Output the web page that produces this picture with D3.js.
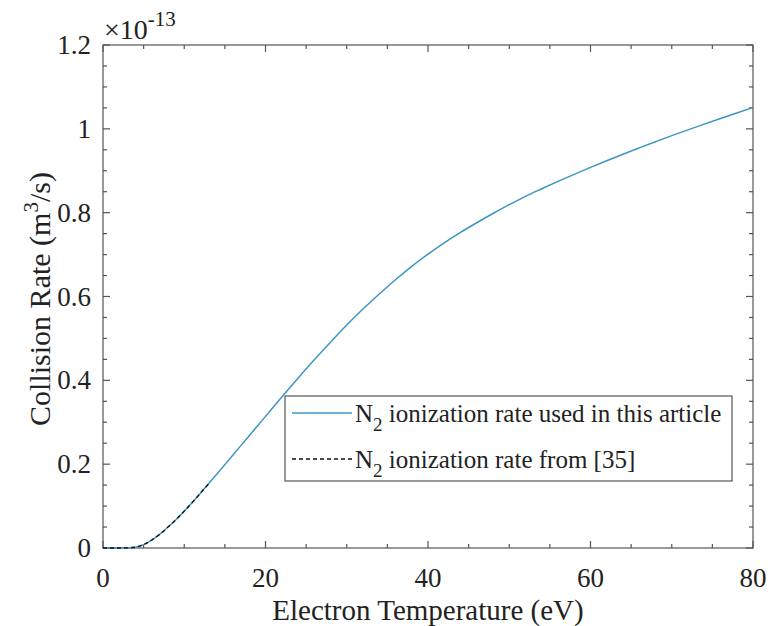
<!DOCTYPE html>
<html><head><meta charset="utf-8">
<script src="https://cdn.jsdelivr.net/npm/d3@7"></script>
<style>body{margin:0;background:#fff}svg{display:block}</style>
</head><body><svg id="c" width="769" height="626"></svg>
<script>
// Data (collision rate in units of 1e-13 m^3/s)
const temps = [0,1,2,3,4,5,6,7,8,9,10,12,14,16,18,20,22,24,26,28,30,32,34,36,38,40,42,44,46,48,50,52,54,56,58,60,62,64,66,68,70,72,74,76,78,80];
const rateArticle = [0,0,0,0.0005,0.002,0.008,0.019,0.033,0.05,0.068,0.088,0.131,0.176,0.222,0.268,0.314,0.360,0.405,0.449,0.491,0.532,0.570,0.606,0.640,0.672,0.701,0.728,0.753,0.776,0.798,0.819,0.839,0.857,0.8745,0.8915,0.908,0.924,0.9395,0.9545,0.9693,0.9838,0.9976,1.0112,1.0246,1.0378,1.0508];
const tempsRef = [0,1,2,3,4,5,6,7,8,9,10,11,12,13];
const rateRef = [0,0,0,0.0005,0.002,0.008,0.019,0.033,0.05,0.068,0.088,0.109,0.131,0.153];
const xMajor = [0,20,40,60,80];
const xMinor = d3.range(0,81,5);
const yMajor = [0,0.2,0.4,0.6,0.8,1,1.2];
const yMinor = d3.range(0,1.2001,0.05);
const yTickLabels = ["0","0.2","0.4","0.6","0.8","1","1.2"];
const seriesNames = ["ionization rate used in this article","ionization rate from [35]"];

const FONT = "Liberation Serif";
const svg = d3.select("#c");
const L=103,R=753,T=45,B=548;
const x = d3.scaleLinear().domain([0,80]).range([L,R]);
const y = d3.scaleLinear().domain([0,1.2]).range([B,T]);
const axCol="#555", txtCol="#222";
const txt = (sel)=>sel.append("text").style("font-family",FONT).attr("fill",txtCol);

svg.append("rect").attr("x",L).attr("y",T).attr("width",R-L).attr("height",B-T)
  .attr("fill","none").attr("stroke",axCol).attr("stroke-width",1.2);

const g = svg.append("g").attr("stroke",axCol).attr("stroke-width",1.2);
xMinor.forEach(v=>{const len = xMajor.includes(v)?7:4; const px=x(v);
  g.append("line").attr("x1",px).attr("x2",px).attr("y1",B).attr("y2",B-len);
  g.append("line").attr("x1",px).attr("x2",px).attr("y1",T).attr("y2",T+len);});
yMinor.forEach(v=>{const isMaj = yMajor.some(m=>Math.abs(m-v)<1e-6); const len=isMaj?7:4; const py=y(v);
  g.append("line").attr("x1",L).attr("x2",L+len).attr("y1",py).attr("y2",py);
  g.append("line").attr("x1",R).attr("x2",R-len).attr("y1",py).attr("y2",py);});

xMajor.forEach(v=>txt(svg).attr("x",x(v)).attr("y",587).attr("text-anchor","middle")
  .attr("font-size",27).text(String(v)));
yMajor.forEach((v,i)=>txt(svg).attr("x",L-12).attr("y",y(v)+9).attr("text-anchor","end")
  .attr("font-size",27).text(yTickLabels[i]));

const ex = txt(svg).attr("x",104).attr("y",39).attr("font-size",28);
ex.append("tspan").text("\u00d710");
ex.append("tspan").attr("dy",-13).attr("font-size",21).text("-13");

txt(svg).attr("x",428).attr("y",620).attr("text-anchor","middle").attr("font-size",29)
  .text("Electron Temperature (eV)");
const yl = txt(svg).attr("transform",`translate(50,299) rotate(-90)`)
  .attr("text-anchor","middle").attr("font-size",30);
yl.append("tspan").text("Collision Rate (m");
yl.append("tspan").attr("dy",-12).attr("font-size",21).text("3");
yl.append("tspan").attr("dy",12).text("/s)");

const line = d3.line().x(d=>x(d[0])).y(d=>y(d[1])).curve(d3.curveMonotoneX);
svg.append("path").datum(temps.map((t,i)=>[t,rateArticle[i]])).attr("d",line)
  .attr("fill","none").attr("stroke","#3d95c3").attr("stroke-width",1.5);
svg.append("path").datum(tempsRef.map((t,i)=>[t,rateRef[i]])).attr("d",line)
  .attr("fill","none").attr("stroke","#111").attr("stroke-width",1.3).attr("stroke-dasharray","4,3");

svg.append("rect").attr("x",285).attr("y",396).attr("width",447).attr("height",85)
  .attr("fill","#fff").attr("stroke",axCol).attr("stroke-width",1.2);
const rows=[{y:413,stroke:"#3d95c3",dash:null},{y:459,stroke:"#111",dash:"4,3"}];
rows.forEach((r,i)=>{
  svg.append("line").attr("x1",292).attr("x2",352).attr("y1",r.y).attr("y2",r.y)
    .attr("stroke",r.stroke).attr("stroke-width",1.3).attr("stroke-dasharray",r.dash);
  const t = txt(svg).attr("x",355).attr("y",r.y+9).attr("font-size",25);
  t.append("tspan").text("N");
  t.append("tspan").attr("dy",9).attr("font-size",19).text("2");
  t.append("tspan").attr("dy",-9).text(" "+seriesNames[i]);
});
</script></body></html>
